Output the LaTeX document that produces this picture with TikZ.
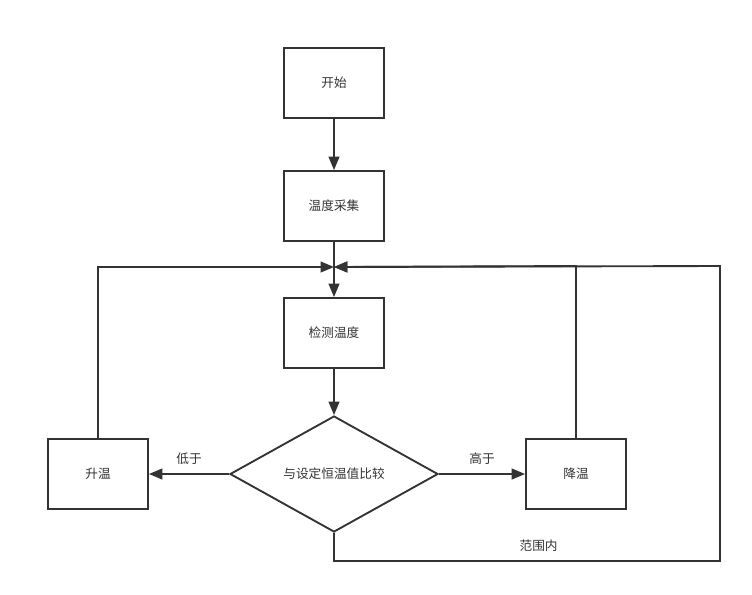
\documentclass[tikz,border=0pt]{standalone}
\usepackage{fontspec}
\newfontfamily\cjk{Noto Sans CJK SC}
\usetikzlibrary{arrows.meta,shapes.geometric}
\definecolor{ink}{HTML}{333333}
\begin{document}
\begin{tikzpicture}[x=0.75pt,y=-0.75pt,
  every node/.style={font=\cjk\fontsize{9.5}{11}\selectfont,text=ink},
  box/.style={draw=ink,line width=1.4pt,minimum width=75pt,minimum height=52.5pt,inner sep=0pt},
  dia/.style={draw=ink,line width=1.4pt,diamond,minimum width=156pt,minimum height=87pt,inner sep=0pt,aspect=1.79},
  conn/.style={draw=ink,line width=1.4pt},
  arr/.style={conn,-{Triangle[length=10pt,width=8pt]}}]
\useasboundingbox (0,0) rectangle (752,594);
\node[box] (start) at (334,83) {开始};
\node[box] (collect) at (334,206) {温度采集};
\node[box] (detect) at (334,333) {检测温度};
\node[dia] (cmp) at (334,474) {与设定恒温值比较};
\node[box] (up) at (98,474) {升温};
\node[box] (down) at (576,474) {降温};
\coordinate (m) at (334,267);
\coordinate (lc) at (98,267);
\coordinate (rc) at (576,266);
\coordinate (b1) at (334,561);
\coordinate (b2) at (720,561);
\coordinate (b3) at (720,266);
\draw[arr] (start) -- (collect);
\draw[conn] (collect) -- (m);
\draw[arr] (m) -- (detect);
\draw[arr] (detect) -- (cmp);
\draw[arr] (cmp.west) -- node[above=3pt]{低于} (up);
\draw[arr] (cmp.east) -- node[above=3pt]{高于} (down);
\draw[arr] (up.north) -- (lc) -- (m);
\draw[arr] (down.north) -- (rc) -- (m);
\draw[arr] (cmp.south) -- (b1) -- node[above=3pt,pos=0.53]{范围内} (b2) -- (b3) -- (m);
\end{tikzpicture}
\end{document}
